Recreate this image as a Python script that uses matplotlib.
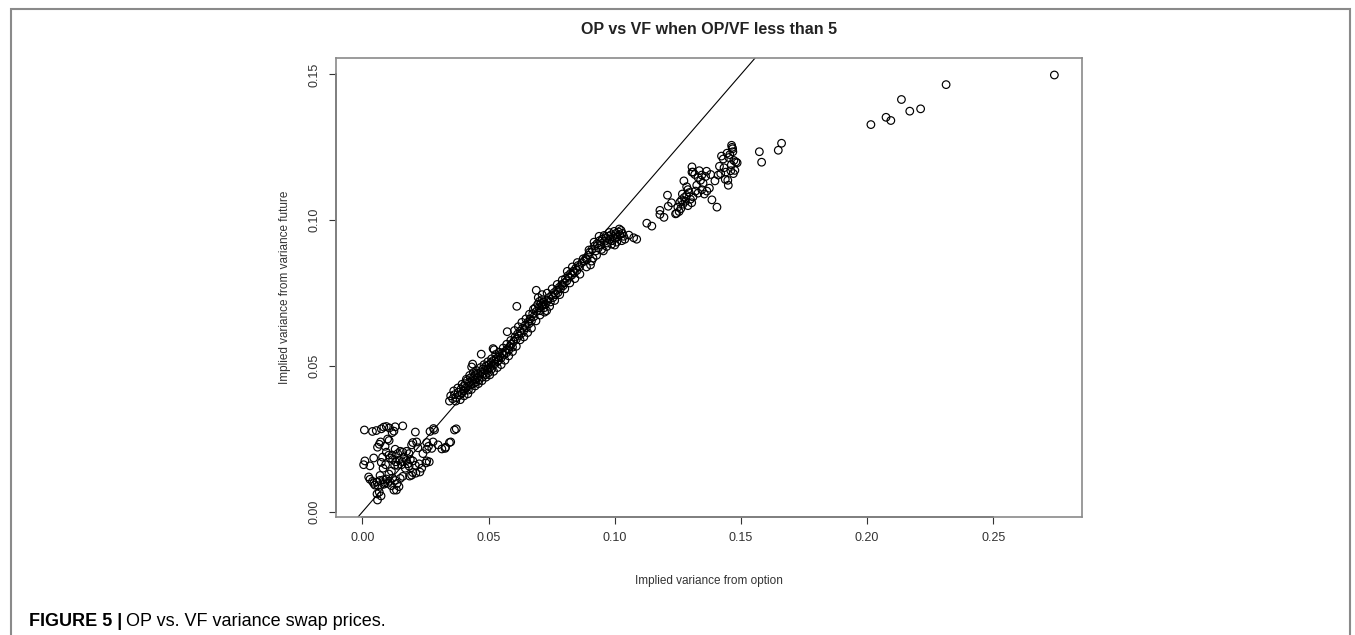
import numpy as np
import matplotlib.pyplot as plt
from matplotlib.patches import Rectangle

plt.rcParams['font.family'] = ['Liberation Sans', 'DejaVu Sans']

# low scattered cluster (0 - 0.037)
op_low = [0.0008, 0.0040, 0.0055, 0.0075, 0.0085, 0.0095, 0.0107, 0.0130, 0.0160, 0.0118,
          0.0125, 0.0210, 0.0268, 0.0282, 0.0286, 0.0067, 0.0060, 0.0072, 0.0100, 0.0106,
          0.0200, 0.0215, 0.0195, 0.0255, 0.0262, 0.0275, 0.0345, 0.0328, 0.0315, 0.0255,
          0.0220, 0.0130, 0.0150, 0.0140, 0.0160, 0.0175, 0.0185, 0.0095, 0.0105, 0.0080,
          0.0110, 0.0120, 0.0132, 0.0145, 0.0158, 0.0175, 0.0190, 0.0010, 0.0030, 0.0005,
          0.0075, 0.0082, 0.0092, 0.0140, 0.0155, 0.0170, 0.0185, 0.0210, 0.0225, 0.0255,
          0.0252, 0.0265, 0.0235, 0.0200, 0.0212, 0.0228, 0.0030, 0.0045, 0.0058, 0.0070,
          0.0082, 0.0095, 0.0100, 0.0108, 0.0050, 0.0062, 0.0120, 0.0130, 0.0138, 0.0150,
          0.0115, 0.0145, 0.0125, 0.0135, 0.0187, 0.0195, 0.0365, 0.0372, 0.0067, 0.0058,
          0.0074, 0.0060, 0.0085, 0.0090, 0.0330, 0.0350,
          0.0045, 0.0090, 0.0118, 0.0128, 0.0165, 0.0180, 0.0200, 0.0240, 0.0280, 0.0300,
          0.0105, 0.0115, 0.0160, 0.0070, 0.0040, 0.0025]
vf_low = [0.0281, 0.0276, 0.0279, 0.0285, 0.0291, 0.0293, 0.0288, 0.0292, 0.0295, 0.0272,
          0.0277, 0.0274, 0.0276, 0.0286, 0.0281, 0.0232, 0.0222, 0.0240, 0.0250, 0.0245,
          0.0238, 0.0240, 0.0230, 0.0238, 0.0225, 0.0218, 0.0238, 0.0218, 0.0216, 0.0215,
          0.0220, 0.0215, 0.0208, 0.0200, 0.0205, 0.0208, 0.0200, 0.0205, 0.0195, 0.0188,
          0.0185, 0.0180, 0.0172, 0.0178, 0.0172, 0.0176, 0.0180, 0.0175, 0.0158, 0.0162,
          0.0170, 0.0150, 0.0162, 0.0160, 0.0162, 0.0150, 0.0157, 0.0160, 0.0165, 0.0175,
          0.0168, 0.0172, 0.0150, 0.0135, 0.0133, 0.0137, 0.0112, 0.0098, 0.0103, 0.0108,
          0.0110, 0.0113, 0.0098, 0.0105, 0.0092, 0.0090, 0.0116, 0.0108, 0.0098, 0.0115,
          0.0090, 0.0087, 0.0075, 0.0075, 0.0123, 0.0126, 0.0281, 0.0285, 0.0068, 0.0062,
          0.0055, 0.0041, 0.0095, 0.0100, 0.0222, 0.0240,
          0.0185, 0.0225, 0.0195, 0.0160, 0.0188, 0.0165, 0.0175, 0.0200, 0.0240, 0.0230,
          0.0130, 0.0140, 0.0122, 0.0125, 0.0105, 0.0120]

# dense band (0.034 - 0.11)
op_band = [0.0345, 0.0350, 0.0358, 0.0365, 0.0372, 0.0380, 0.0385, 0.0390, 0.0395, 0.0400,
           0.0402, 0.0408, 0.0410, 0.0415, 0.0418, 0.0420, 0.0425, 0.0428, 0.0430, 0.0433,
           0.0437, 0.0435, 0.0440, 0.0442, 0.0445, 0.0448, 0.0450,
           0.0455, 0.0458, 0.0462, 0.0465, 0.0470, 0.0471, 0.0475, 0.0478, 0.0480, 0.0485,
           0.0488, 0.0490, 0.0495, 0.0500, 0.0502, 0.0505, 0.0510, 0.0512, 0.0515, 0.0518,
           0.0520, 0.0522, 0.0525, 0.0530, 0.0535, 0.0538, 0.0540, 0.0545, 0.0550, 0.0555,
           0.0560, 0.0565, 0.0570, 0.0574, 0.0575, 0.0580, 0.0585, 0.0590, 0.0595,
           0.0600, 0.0605, 0.0610, 0.0612, 0.0615, 0.0620, 0.0625, 0.0630, 0.0635, 0.0640,
           0.0645, 0.0650, 0.0655, 0.0660, 0.0665, 0.0670, 0.0675, 0.0680, 0.0685, 0.0689,
           0.0690,
           0.0695, 0.0700, 0.0702, 0.0705, 0.0708, 0.0710, 0.0712, 0.0715, 0.0718, 0.0720,
           0.0725, 0.0730, 0.0735, 0.0740, 0.0745, 0.0750, 0.0755, 0.0760, 0.0765, 0.0770,
           0.0775, 0.0780, 0.0785, 0.0790, 0.0795,
           0.0800, 0.0805, 0.0810, 0.0815, 0.0820, 0.0825, 0.0830, 0.0835, 0.0840, 0.0845,
           0.0850, 0.0855, 0.0860, 0.0870, 0.0880, 0.0885, 0.0890, 0.0895, 0.0904,
           0.0900, 0.0910, 0.0914, 0.0920, 0.0925, 0.0930, 0.0935, 0.0940, 0.0945, 0.0950,
           0.0955, 0.0960, 0.0965, 0.0970, 0.0975, 0.0980, 0.0985, 0.0990, 0.0995, 0.1000,
           0.1005, 0.1010, 0.1015, 0.1020, 0.1025, 0.1030, 0.1035, 0.1040, 0.1056, 0.1075,
           0.1087]
vf_band = [0.0380, 0.0398, 0.0388, 0.0402, 0.0392, 0.0410, 0.0400, 0.0420, 0.0408, 0.0430,
           0.0415, 0.0440, 0.0425, 0.0450, 0.0432, 0.0418, 0.0445, 0.0460, 0.0435, 0.0497,
           0.0507, 0.0450, 0.0440, 0.0465, 0.0452, 0.0470, 0.0445,
           0.0460, 0.0475, 0.0452, 0.0468, 0.0480, 0.0541, 0.0462, 0.0490, 0.0475, 0.0485,
           0.0470, 0.0500, 0.0488, 0.0478, 0.0505, 0.0495, 0.0512, 0.0490, 0.0503, 0.0560,
           0.0520, 0.0556, 0.0508, 0.0525, 0.0515, 0.0530, 0.0520, 0.0535, 0.0528, 0.0545,
           0.0538, 0.0550, 0.0545, 0.0618, 0.0560, 0.0555, 0.0568, 0.0575, 0.0565,
           0.0585, 0.0600, 0.0592, 0.0705, 0.0610, 0.0603, 0.0620, 0.0612, 0.0630, 0.0622,
           0.0640, 0.0632, 0.0650, 0.0645, 0.0662, 0.0655, 0.0680, 0.0670, 0.0700, 0.0760,
           0.0688,
           0.0712, 0.0700, 0.0722, 0.0690, 0.0715, 0.0705, 0.0728, 0.0710, 0.0720, 0.0700,
           0.0712, 0.0690, 0.0725, 0.0735, 0.0720, 0.0742, 0.0735, 0.0752, 0.0745, 0.0760,
           0.0752, 0.0770, 0.0765, 0.0780, 0.0775,
           0.0785, 0.0800, 0.0792, 0.0810, 0.0805, 0.0818, 0.0812, 0.0825, 0.0820, 0.0835,
           0.0828, 0.0845, 0.0840, 0.0855, 0.0860, 0.0870, 0.0865, 0.0880, 0.0847,
           0.0890, 0.0900, 0.0870, 0.0912, 0.0895, 0.0920, 0.0905, 0.0930, 0.0915, 0.0935,
           0.0895, 0.0928, 0.0940, 0.0922, 0.0945, 0.0935, 0.0950, 0.0930, 0.0945, 0.0938,
           0.0955, 0.0942, 0.0960, 0.0950, 0.0965, 0.0955, 0.0945, 0.0935, 0.0949, 0.0940,
           0.0935]

# points on the edges of the band
op_edge = [0.0362, 0.0370, 0.0378, 0.0388, 0.0395, 0.0403, 0.0412, 0.0418, 0.0425, 0.0432,
           0.0440, 0.0447, 0.0452, 0.0460, 0.0468, 0.0474, 0.0482, 0.0490, 0.0497, 0.0505,
           0.0512, 0.0520, 0.0528, 0.0535, 0.0542, 0.0550, 0.0558, 0.0565, 0.0572, 0.0580,
           0.0588, 0.0595,
           0.0603, 0.0610, 0.0618, 0.0625, 0.0632, 0.0640, 0.0648, 0.0655, 0.0662, 0.0670,
           0.0678, 0.0688, 0.0697, 0.0704, 0.0712, 0.0722, 0.0732, 0.0742, 0.0752, 0.0762,
           0.0772, 0.0782, 0.0792,
           0.0802, 0.0812, 0.0822, 0.0832, 0.0842, 0.0852, 0.0862, 0.0875, 0.0888, 0.0898,
           0.0908, 0.0918, 0.0928, 0.0938, 0.0948, 0.0958, 0.0968, 0.0978, 0.0988, 0.0998,
           0.1008, 0.1018, 0.1028, 0.1000]
vf_edge = [0.0415, 0.0380, 0.0425, 0.0385, 0.0438, 0.0398, 0.0455, 0.0405, 0.0468, 0.0420,
           0.0478, 0.0432, 0.0485, 0.0440, 0.0495, 0.0450, 0.0505, 0.0462, 0.0515, 0.0470,
           0.0525, 0.0482, 0.0540, 0.0495, 0.0548, 0.0505, 0.0562, 0.0520, 0.0575, 0.0535,
           0.0588, 0.0550,
           0.0622, 0.0568, 0.0635, 0.0590, 0.0650, 0.0600, 0.0662, 0.0615, 0.0678, 0.0630,
           0.0695, 0.0655, 0.0735, 0.0675, 0.0745, 0.0685, 0.0750, 0.0705, 0.0765, 0.0725,
           0.0780, 0.0745, 0.0795,
           0.0765, 0.0825, 0.0785, 0.0840, 0.0800, 0.0855, 0.0815, 0.0868, 0.0840, 0.0898,
           0.0860, 0.0925, 0.0880, 0.0945, 0.0900, 0.0948, 0.0910, 0.0958, 0.0918, 0.0962,
           0.0925, 0.0970, 0.0930, 0.0915]

# upper group (0.11 - 0.15)
op_high = [0.1127, 0.1147, 0.1179, 0.1179, 0.1209, 0.1212, 0.1241, 0.1245, 0.1250, 0.1258,
           0.1265, 0.1270, 0.1262, 0.1275, 0.1280, 0.1285, 0.1290, 0.1300, 0.1310, 0.1274,
           0.1285, 0.1290, 0.1306, 0.1310, 0.1317, 0.1330, 0.1340, 0.1350, 0.1320, 0.1330,
           0.1345, 0.1355, 0.1365, 0.1364, 0.1380, 0.1397, 0.1385, 0.1405, 0.1410, 0.1420,
           0.1423, 0.1433, 0.1440, 0.1445, 0.1448, 0.1450, 0.1456, 0.1460, 0.1463, 0.1465,
           0.1467, 0.1470, 0.1476, 0.1480, 0.1485, 0.1306, 0.1345,
           0.1195, 0.1225, 0.1255, 0.1268, 0.1295, 0.1305, 0.1325, 0.1335, 0.1360, 0.1375,
           0.1415, 0.1430, 0.1438, 0.1452, 0.1462, 0.1468, 0.1472]
vf_high = [0.0990, 0.0980, 0.1034, 0.1020, 0.1086, 0.1048, 0.1022, 0.1024, 0.1045, 0.1062,
           0.1070, 0.1055, 0.1040, 0.1078, 0.1065, 0.1085, 0.1050, 0.1072, 0.1080, 0.1135,
           0.1115, 0.1105, 0.1183, 0.1165, 0.1157, 0.1147, 0.1137, 0.1127, 0.1100, 0.1093,
           0.1105, 0.1090, 0.1100, 0.1168, 0.1157, 0.1135, 0.1070, 0.1045, 0.1155, 0.1160,
           0.1220, 0.1180, 0.1165, 0.1230, 0.1137, 0.1120, 0.1225, 0.1170, 0.1257, 0.1250,
           0.1245, 0.1160, 0.1171, 0.1200, 0.1197, 0.1165, 0.1155,
           0.1010, 0.1060, 0.1030, 0.1090, 0.1095, 0.1060, 0.1120, 0.1170, 0.1150, 0.1110,
           0.1185, 0.1210, 0.1140, 0.1215, 0.1190, 0.1235, 0.1205]

# sparse tail
op_tail = [0.1573, 0.1582, 0.1648, 0.1661, 0.2015, 0.2075, 0.2094, 0.2136, 0.2169, 0.2212,
           0.2313, 0.2742]
vf_tail = [0.1235, 0.1199, 0.1240, 0.1264, 0.1328, 0.1353, 0.1342, 0.1414, 0.1374, 0.1382,
           0.1465, 0.1498]

xticks = [0.00, 0.05, 0.10, 0.15, 0.20, 0.25]
yticks = [0.00, 0.05, 0.10, 0.15]

op = np.array(op_low + op_band + op_edge + op_high + op_tail)
vf = np.array(vf_low + vf_band + vf_edge + vf_high + vf_tail)

fig = plt.figure(figsize=(13.55, 6.35), dpi=100)
fig.patches.append(Rectangle((11 / 1355, -0.05), 1339 / 1355, 1 - 9 / 635 + 0.05,
                             transform=fig.transFigure, fill=False,
                             edgecolor='#8a8a8a', linewidth=1.5))

ax = fig.add_axes([336 / 1355, 118 / 635, 746 / 1355, 459 / 635])
ax.scatter(op, vf, s=30, facecolors='none', edgecolors='black', linewidths=0.85)
ax.axline((0, 0), slope=1, color='black', linewidth=0.8)

# R style 4% padding
xr = op.max() - op.min()
yr = vf.max() - vf.min()
ax.set_xlim(op.min() - 0.04 * xr, op.max() + 0.04 * xr)
ax.set_ylim(vf.min() - 0.04 * yr, vf.max() + 0.04 * yr)

for s in ax.spines.values():
    s.set_color('#8a8a8a')
    s.set_linewidth(1.2)
ymin = ax.get_ylim()[0]
xmin = ax.get_xlim()[0]
ax.plot([xticks[0], xticks[-1]], [ymin, ymin], color='#333333', lw=1.2, clip_on=False)
ax.plot([xmin, xmin], [yticks[0], yticks[-1]], color='#333333', lw=1.2, clip_on=False)

ax.set_xticks(xticks)
ax.set_xticklabels(['%.2f' % t for t in xticks])
ax.set_yticks(yticks)
ax.set_yticklabels(['%.2f' % t for t in yticks], rotation=90, va='center')
ax.tick_params(direction='out', length=5, width=0.8, color='#333333',
               labelsize=9, labelcolor='#333333', pad=6)

ax.set_xlabel('Implied variance from option', fontsize=8.5, color='#333333', labelpad=22)
ax.set_ylabel('Implied variance from variance future', fontsize=8.5, color='#333333', labelpad=13)
fig.text(709 / 1355, 1 - 29 / 635, 'OP vs VF when OP/VF less than 5', ha='center', va='center',
         fontsize=11.5, fontweight='bold', color='#222222')

t1 = fig.text(29 / 1355, 1 - 621 / 635, 'FIGURE 5 |', fontsize=13, fontweight='bold',
              va='center', ha='left')
fig.canvas.draw()
bb = t1.get_window_extent()
fig.text((bb.x1 + 4) / 1355, 1 - 621 / 635, 'OP vs. VF variance swap prices.', fontsize=13,
         va='center', ha='left')

fig.savefig('out.png', dpi=100)
